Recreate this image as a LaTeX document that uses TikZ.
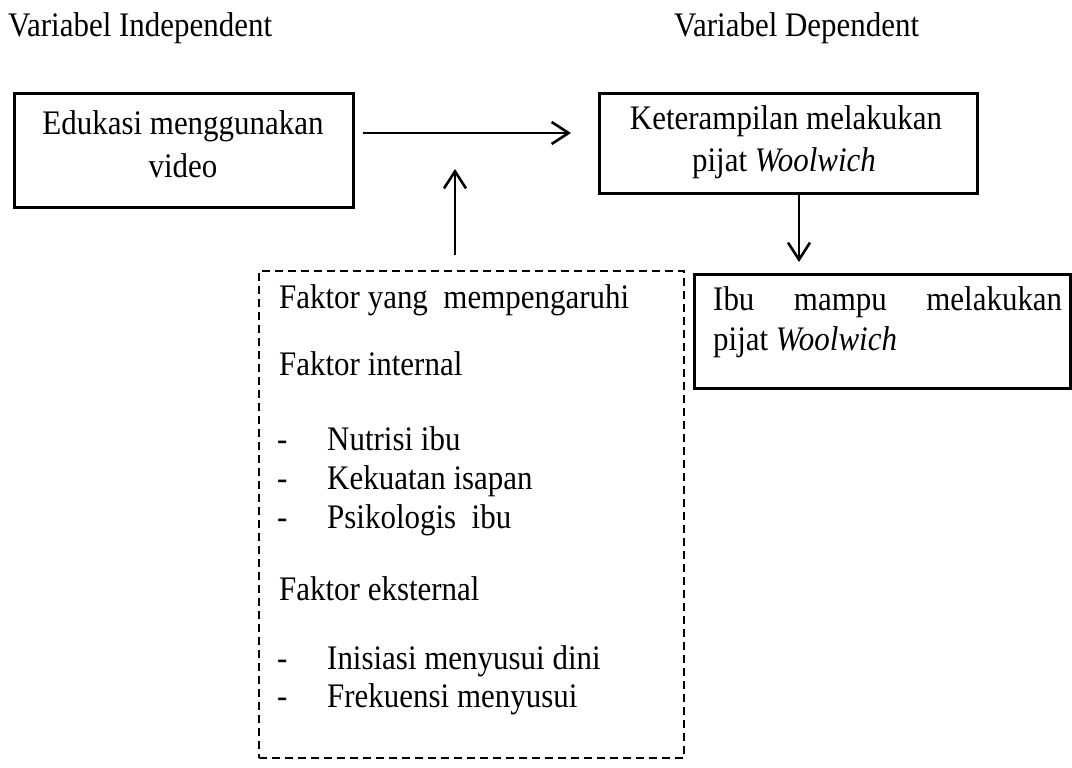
\documentclass[tikz,border=0pt]{standalone}
\usepackage{fontspec}
\setmainfont[FakeStretch=0.9]{Liberation Serif}
\usetikzlibrary{arrows.meta}
\begin{document}
\begin{tikzpicture}[x=1pt,y=-1pt,
  every node/.style={font=\fontsize{34.4}{43}\selectfont, inner sep=0pt},
  box/.style={draw, line width=2.7pt, anchor=north west, inner sep=0pt},
  lbl/.style={anchor=base west},
  clbl/.style={anchor=base},
  arr/.style={line width=2.6pt, -{Straight Barb[length=17pt,width=22pt,line width=2.6pt]}},
  dashbox/.style={draw, line width=2pt, dash pattern=on 8pt off 5pt, anchor=north west}
]
\useasboundingbox (0,0) rectangle (1072,768);
% headings
\node[lbl] (hi) at (8,37) {Variabel Independent};
\node[lbl] (hd) at (674,37) {Variabel Dependent};
% boxes
\node[box, minimum width=339pt, minimum height=114pt] (b1) at (13,92) {};
\node[clbl] (t1a) at (183,134) {Edukasi\ menggunakan};
\node[clbl] (t1b) at (183,177) {video};
\node[box, minimum width=378pt, minimum height=100pt] (b2) at (598,92) {};
\node[clbl] (t2a) at (786,129) {Keterampilan\ melakukan};
\node[clbl] (t2b) at (784,171) {pijat\ \textit{Woolwich}};
\node[box, minimum width=376pt, minimum height=114pt] (b3) at (693,273) {};
\node[lbl] (t3a) at (713,310) {\makebox[349pt][s]{Ibu mampu melakukan}};
\node[lbl] (t3b) at (713,350) {pijat\ \textit{Woolwich}};
\node[dashbox, minimum width=425pt, minimum height=487pt] (fb) at (258,270) {};
\node[lbl] (f1) at (279,308) {Faktor yang\ \ mempengaruhi};
\node[lbl] (f2) at (279,375) {Faktor internal};
\node[lbl] (d1) at (277,450) {-};
\node[lbl] (l1) at (327,450) {Nutrisi\ ibu};
\node[lbl] (d2) at (277,489) {-};
\node[lbl] (l2) at (327,489) {Kekuatan isapan};
\node[lbl] (d3) at (277,528) {-};
\node[lbl] (l3) at (327,528) {Psikologis\ \ ibu};
\node[lbl] (f3) at (279,600) {Faktor eksternal};
\node[lbl] (d4) at (277,669) {-};
\node[lbl] (l4) at (327,669) {Inisiasi\ menyusui\ dini};
\node[lbl] (d5) at (277,707) {-};
\node[lbl] (l5) at (327,707) {Frekuensi\ menyusui};
% connectors
\coordinate (h1) at (363,133);
\coordinate (h2) at (571,133);
\coordinate (ux) at (455,169);
\coordinate (dx) at (799,262);
\draw[arr] (h1) -- (h2);
\draw[arr] ([yshift=15pt]fb.north -| ux) -- (ux);
\draw[arr] (b2.south -| dx) -- (dx);
\end{tikzpicture}
\end{document}
